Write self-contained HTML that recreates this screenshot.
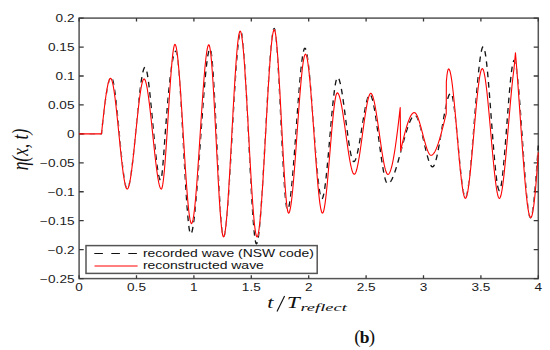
<!DOCTYPE html>
<html><head><meta charset="utf-8"><style>
html,body{margin:0;padding:0;background:#fff;}
body{width:550px;height:350px;overflow:hidden;}
svg{display:block;}
.tk{font-family:"Liberation Sans",sans-serif;font-size:10px;fill:#1a1a1a;}
.lg{font-family:"Liberation Sans",sans-serif;font-size:10.4px;fill:#111;}
.mt{font-family:"Liberation Serif",serif;font-style:italic;fill:#111;}
</style></head><body>
<svg width="550" height="350" viewBox="0 0 550 350">
<rect x="0" y="0" width="550" height="350" fill="#fff"/>
<rect x="79.10" y="18.10" width="459.20" height="260.50" fill="none" stroke="#555" stroke-width="1.5"/>
<path d="M79.10 278.60v-3.4M79.10 18.10v3.4M136.50 278.60v-3.4M136.50 18.10v3.4M193.90 278.60v-3.4M193.90 18.10v3.4M251.30 278.60v-3.4M251.30 18.10v3.4M308.70 278.60v-3.4M308.70 18.10v3.4M366.10 278.60v-3.4M366.10 18.10v3.4M423.50 278.60v-3.4M423.50 18.10v3.4M480.90 278.60v-3.4M480.90 18.10v3.4M538.30 278.60v-3.4M538.30 18.10v3.4M79.10 18.10h4.6M538.30 18.10h-4.6M79.10 47.04h4.6M538.30 47.04h-4.6M79.10 75.99h4.6M538.30 75.99h-4.6M79.10 104.93h4.6M538.30 104.93h-4.6M79.10 133.88h4.6M538.30 133.88h-4.6M79.10 162.82h4.6M538.30 162.82h-4.6M79.10 191.77h4.6M538.30 191.77h-4.6M79.10 220.71h4.6M538.30 220.71h-4.6M79.10 249.66h4.6M538.30 249.66h-4.6M79.10 278.60h4.6M538.30 278.60h-4.6" stroke="#383838" stroke-width="1.3" fill="none"/>
<defs><mask id="m" maskUnits="userSpaceOnUse" x="0" y="0" width="550" height="350"><rect x="0" y="0" width="550" height="350" fill="#fff"/><polyline points="79.10,133.88 79.61,133.88 80.12,133.88 80.63,133.88 81.14,133.88 81.64,133.88 82.15,133.88 82.66,133.88 83.17,133.88 83.68,133.88 84.19,133.88 84.70,133.88 85.21,133.88 85.71,133.88 86.22,133.88 86.73,133.88 87.24,133.88 87.75,133.88 88.26,133.88 88.77,133.88 89.28,133.88 89.78,133.88 90.29,133.88 90.80,133.88 91.31,133.88 91.82,133.88 92.33,133.88 92.84,133.88 93.35,133.88 93.85,133.88 94.36,133.88 94.87,133.88 95.38,133.88 95.89,133.88 96.40,133.88 96.91,133.88 97.42,133.88 97.92,133.88 98.43,133.88 98.94,133.88 99.45,133.88 99.96,133.88 100.47,133.88 100.98,133.88 101.49,133.88 101.99,129.08 102.49,124.34 103.00,119.70 103.50,115.18 104.01,110.81 104.51,106.60 105.01,102.58 105.52,98.78 106.02,95.23 106.52,91.94 107.03,88.95 107.53,86.28 108.04,83.94 108.54,81.98 109.04,80.41 109.55,79.26 110.05,78.55 110.56,78.30 111.06,78.60 111.56,79.48 112.07,80.89 112.57,82.79 113.08,85.16 113.58,87.96 114.09,91.15 114.59,94.68 115.10,98.53 115.60,102.66 116.10,107.03 116.61,111.60 117.11,116.34 117.62,121.21 118.12,126.17 118.63,131.19 119.13,136.22 119.63,141.24 120.14,146.20 120.64,151.07 121.15,155.81 121.65,160.38 122.16,164.75 122.66,168.88 123.17,172.73 123.67,176.26 124.17,179.45 124.68,182.24 125.18,184.61 125.69,186.52 126.19,187.93 126.70,188.80 127.20,189.10 127.71,188.81 128.22,187.94 128.74,186.54 129.25,184.64 129.76,182.28 130.27,179.50 130.78,176.33 131.29,172.81 131.80,168.98 132.32,164.87 132.83,160.53 133.34,155.98 133.85,151.27 134.36,146.42 134.87,141.49 135.38,136.50 135.89,131.49 136.41,126.50 136.92,121.56 137.43,116.72 137.94,112.01 138.45,107.46 138.96,103.11 139.47,99.01 139.99,95.18 140.50,91.66 141.01,88.49 141.52,85.71 142.03,83.35 142.54,81.45 143.05,80.05 143.57,79.18 144.08,78.88 144.58,79.16 145.09,79.98 145.60,81.31 146.10,83.10 146.61,85.33 147.12,87.97 147.62,90.98 148.13,94.32 148.64,97.96 149.14,101.88 149.65,106.03 150.15,110.38 150.66,114.90 151.17,119.56 151.67,124.31 152.18,129.14 152.69,133.99 153.19,138.85 153.70,143.67 154.21,148.43 154.71,153.09 155.22,157.61 155.73,161.96 156.23,166.11 156.74,170.02 157.25,173.67 157.75,177.01 158.26,180.02 158.76,182.65 159.27,184.89 159.78,186.68 160.28,188.00 160.79,188.82 161.30,189.10 161.80,188.52 162.31,186.84 162.81,184.14 163.32,180.51 163.83,176.05 164.33,170.83 164.84,164.96 165.34,158.50 165.85,151.57 166.36,144.23 166.86,136.59 167.37,128.73 167.87,120.73 168.38,112.69 168.89,104.70 169.39,96.84 169.90,89.19 170.40,81.86 170.91,74.92 171.42,68.47 171.92,62.59 172.43,57.38 172.93,52.91 173.44,49.29 173.95,46.59 174.45,44.90 174.96,44.32 175.46,44.81 175.96,46.22 176.46,48.50 176.96,51.59 177.46,55.42 177.96,59.95 178.46,65.10 178.97,70.82 179.47,77.06 179.97,83.74 180.47,90.80 180.97,98.20 181.47,105.87 181.97,113.75 182.47,121.77 182.97,129.89 183.47,138.04 183.98,146.15 184.48,154.18 184.98,162.06 185.48,169.73 185.98,177.13 186.48,184.19 186.98,190.87 187.48,197.11 187.98,202.83 188.48,207.98 188.98,212.51 189.49,216.34 189.99,219.43 190.49,221.71 190.99,223.12 191.49,223.61 192.00,223.15 192.51,221.82 193.02,219.67 193.53,216.76 194.04,213.14 194.55,208.86 195.06,203.98 195.57,198.56 196.08,192.64 196.59,186.29 197.10,179.55 197.61,172.49 198.12,165.15 198.63,157.60 199.14,149.88 199.65,142.05 200.16,134.17 200.67,126.28 201.18,118.46 201.69,110.74 202.20,103.18 202.71,95.85 203.22,88.78 203.73,82.05 204.24,75.69 204.75,69.78 205.26,64.35 205.76,59.47 206.27,55.20 206.78,51.57 207.29,48.66 207.80,46.51 208.31,45.18 208.82,44.73 209.33,45.40 209.84,47.35 210.34,50.47 210.85,54.69 211.36,59.90 211.86,66.01 212.37,72.92 212.88,80.54 213.38,88.77 213.89,97.53 214.40,106.71 214.90,116.22 215.41,125.97 215.92,135.86 216.42,145.79 216.93,155.68 217.44,165.43 217.94,174.94 218.45,184.12 218.96,192.88 219.46,201.11 219.97,208.73 220.48,215.64 220.98,221.75 221.49,226.96 222.00,231.18 222.50,234.30 223.01,236.25 223.52,236.92 224.02,236.36 224.53,234.74 225.03,232.13 225.54,228.58 226.04,224.18 226.54,218.98 227.05,213.07 227.55,206.50 228.06,199.35 228.56,191.68 229.07,183.57 229.57,175.07 230.08,166.27 230.58,157.23 231.08,148.02 231.59,138.70 232.09,129.35 232.60,120.03 233.10,110.82 233.61,101.77 234.11,92.97 234.62,84.48 235.12,76.36 235.62,68.70 236.13,61.54 236.63,54.98 237.14,49.06 237.64,43.87 238.15,39.46 238.65,35.92 239.16,33.30 239.66,31.68 240.16,31.13 240.68,31.68 241.19,33.30 241.70,35.92 242.21,39.46 242.72,43.87 243.23,49.06 243.74,54.98 244.26,61.54 244.77,68.70 245.28,76.36 245.79,84.48 246.30,92.97 246.81,101.77 247.32,110.82 247.84,120.03 248.35,129.35 248.86,138.70 249.37,148.02 249.88,157.23 250.39,166.27 250.90,175.07 251.41,183.57 251.93,191.68 252.44,199.35 252.95,206.50 253.46,213.07 253.97,218.98 254.48,224.18 254.99,228.58 255.51,232.13 256.02,234.74 256.53,236.36 257.04,236.92 257.55,236.39 258.05,234.85 258.56,232.36 259.07,228.99 259.57,224.79 260.08,219.84 260.59,214.18 261.09,207.90 261.60,201.04 262.10,193.68 262.61,185.88 263.12,177.70 263.62,169.20 264.13,160.44 264.64,151.50 265.14,142.43 265.65,133.30 266.16,124.17 266.66,115.10 267.17,106.15 267.68,97.40 268.18,88.90 268.69,80.72 269.20,72.91 269.70,65.55 270.21,58.70 270.71,52.41 271.22,46.76 271.73,41.81 272.23,37.61 272.74,34.23 273.25,31.74 273.75,30.21 274.26,29.68 274.77,30.36 275.28,32.35 275.80,35.55 276.31,39.84 276.82,45.14 277.33,51.35 277.85,58.35 278.36,66.06 278.87,74.37 279.38,83.18 279.90,92.39 280.41,101.90 280.92,111.62 281.43,121.43 281.95,131.25 282.46,140.96 282.97,150.47 283.48,159.68 284.00,168.50 284.51,176.81 285.02,184.51 285.53,191.52 286.05,197.72 286.56,203.02 287.07,207.32 287.58,210.51 288.10,212.50 288.61,213.19 289.12,212.76 289.63,211.50 290.14,209.48 290.66,206.74 291.17,203.34 291.68,199.33 292.19,194.76 292.70,189.68 293.21,184.15 293.72,178.23 294.24,171.96 294.75,165.40 295.26,158.59 295.77,151.61 296.28,144.49 296.79,137.29 297.30,130.06 297.81,122.86 298.33,115.74 298.84,108.76 299.35,101.95 299.86,95.39 300.37,89.12 300.88,83.20 301.39,77.67 301.91,72.59 302.42,68.02 302.93,64.01 303.44,60.61 303.95,57.87 304.46,55.85 304.97,54.59 305.49,54.16 306.00,54.59 306.52,55.85 307.03,57.87 307.55,60.61 308.06,64.01 308.57,68.02 309.09,72.59 309.60,77.67 310.12,83.20 310.63,89.12 311.15,95.39 311.66,101.95 312.18,108.76 312.69,115.74 313.21,122.86 313.72,130.06 314.24,137.29 314.75,144.49 315.27,151.61 315.78,158.59 316.30,165.40 316.81,171.96 317.33,178.23 317.84,184.15 318.36,189.68 318.87,194.76 319.39,199.33 319.90,203.34 320.42,206.74 320.93,209.48 321.45,211.50 321.96,212.76 322.48,213.19 322.99,212.77 323.50,211.55 324.01,209.59 324.52,206.95 325.03,203.69 325.54,199.86 326.05,195.53 326.56,190.76 327.07,185.61 327.58,180.12 328.09,174.37 328.60,168.42 329.11,162.31 329.63,156.12 330.14,149.90 330.65,143.71 331.16,137.60 331.67,131.65 332.18,125.90 332.69,120.41 333.20,115.26 333.71,110.49 334.22,106.16 334.73,102.33 335.24,99.07 335.75,96.43 336.26,94.47 336.77,93.25 337.29,92.83 337.80,93.05 338.31,93.70 338.83,94.73 339.34,96.13 339.86,97.88 340.37,99.93 340.89,102.27 341.40,104.87 341.92,107.70 342.43,110.74 342.95,113.95 343.46,117.31 343.98,120.80 344.49,124.37 345.01,128.02 345.52,131.71 346.04,135.41 346.55,139.10 347.07,142.74 347.58,146.32 348.10,149.81 348.61,153.17 349.13,156.38 349.64,159.41 350.16,162.24 350.67,164.84 351.19,167.19 351.70,169.24 352.22,170.98 352.73,172.39 353.25,173.42 353.76,174.06 354.28,174.28 354.78,174.07 355.28,173.43 355.78,172.40 356.28,171.01 356.78,169.27 357.28,167.23 357.78,164.90 358.28,162.32 358.78,159.51 359.29,156.49 359.79,153.30 360.29,149.96 360.79,146.50 361.29,142.95 361.79,139.32 362.29,135.66 362.79,131.98 363.29,128.32 363.79,124.69 364.29,121.14 364.80,117.68 365.30,114.34 365.80,111.15 366.30,108.13 366.80,105.32 367.30,102.73 367.80,100.41 368.30,98.37 368.80,96.63 369.30,95.24 369.80,94.21 370.31,93.57 370.81,93.36 371.31,93.56 371.81,94.16 372.32,95.14 372.82,96.46 373.32,98.10 373.83,100.04 374.33,102.25 374.83,104.70 375.33,107.39 375.84,110.26 376.34,113.32 376.84,116.52 377.35,119.84 377.85,123.26 378.35,126.76 378.86,130.31 379.36,133.88 379.86,137.45 380.37,141.00 380.87,144.49 381.37,147.92 381.87,151.24 382.38,154.44 382.88,157.49 383.38,160.37 383.89,163.05 384.39,165.51 384.89,167.72 385.40,169.66 385.90,171.30 386.40,172.62 386.91,173.59 387.41,174.19 387.91,174.40 388.42,174.25 388.94,173.79 389.45,173.05 389.96,172.03 390.47,170.73 390.98,169.18 391.49,167.37 392.01,165.32 392.52,163.04 393.03,160.54 393.54,157.82 394.05,154.91 394.57,151.79 395.08,148.50 395.59,145.03 396.10,141.39 396.61,137.60 397.12,133.66 397.64,129.59 398.15,125.40 398.66,121.08 399.17,116.66 399.68,112.14 400.20,107.54 400.65,150.84 401.16,148.56 401.67,146.30 402.17,144.08 402.68,141.90 403.18,139.77 403.69,137.68 404.20,135.64 404.70,133.66 405.21,131.73 405.71,129.88 406.22,128.09 406.73,126.38 407.23,124.74 407.74,123.19 408.24,121.73 408.75,120.36 409.26,119.08 409.76,117.90 410.27,116.83 410.77,115.87 411.28,115.02 411.79,114.29 412.29,113.69 412.80,113.21 413.30,112.86 413.81,112.65 414.32,112.57 414.82,112.69 415.33,113.03 415.84,113.57 416.35,114.31 416.86,115.22 417.36,116.30 417.87,117.53 418.38,118.89 418.89,120.37 419.40,121.97 419.90,123.65 420.41,125.41 420.92,127.24 421.43,129.12 421.93,131.03 422.44,132.97 422.95,134.91 423.46,136.84 423.97,138.75 424.47,140.63 424.98,142.46 425.49,144.22 426.00,145.91 426.51,147.50 427.01,148.98 427.52,150.35 428.03,151.57 428.54,152.65 429.05,153.57 429.55,154.30 430.06,154.84 430.57,155.18 431.08,155.30 431.58,155.23 432.09,155.02 432.59,154.68 433.10,154.21 433.60,153.62 434.11,152.92 434.61,152.10 435.12,151.17 435.62,150.15 436.13,149.02 436.63,147.80 437.14,146.49 437.64,145.10 438.15,143.64 438.65,142.10 439.16,140.49 439.66,138.82 440.17,137.09 440.67,135.31 441.18,133.48 441.68,131.61 442.19,129.69 442.69,127.75 443.20,125.78 443.70,123.78 444.21,121.76 444.72,119.74 445.22,117.70 445.73,115.66 446.23,113.62 446.35,81.78 446.92,75.69 447.49,71.71 448.07,69.53 448.64,68.87 449.15,69.22 449.66,70.24 450.16,71.89 450.67,74.12 451.18,76.89 451.69,80.16 452.20,83.88 452.70,88.02 453.21,92.52 453.72,97.35 454.23,102.46 454.74,107.80 455.24,113.34 455.75,119.04 456.26,124.84 456.77,130.70 457.28,136.59 457.78,142.46 458.29,148.26 458.80,153.95 459.31,159.49 459.82,164.84 460.32,169.94 460.83,174.77 461.34,179.27 461.85,183.41 462.35,187.13 462.86,190.40 463.37,193.17 463.88,195.41 464.39,197.05 464.89,198.07 465.40,198.42 465.91,198.07 466.42,197.05 466.94,195.40 467.45,193.16 467.96,190.38 468.47,187.11 468.98,183.38 469.49,179.23 470.00,174.72 470.52,169.88 471.03,164.76 471.54,159.40 472.05,153.85 472.56,148.14 473.07,142.33 473.58,136.45 474.10,130.55 474.61,124.67 475.12,118.86 475.63,113.15 476.14,107.60 476.65,102.24 477.16,97.12 477.68,92.28 478.19,87.77 478.70,83.63 479.21,79.90 479.72,76.62 480.23,73.84 480.74,71.60 481.25,69.95 481.77,68.93 482.28,68.58 482.78,68.91 483.28,69.87 483.79,71.43 484.29,73.55 484.79,76.18 485.30,79.28 485.80,82.82 486.30,86.76 486.81,91.06 487.31,95.67 487.81,100.56 488.31,105.69 488.82,111.01 489.32,116.49 489.82,122.10 490.33,127.78 490.83,133.50 491.33,139.22 491.84,144.91 492.34,150.51 492.84,155.99 493.35,161.32 493.85,166.45 494.35,171.33 494.85,175.95 495.36,180.24 495.86,184.18 496.36,187.72 496.87,190.83 497.37,193.46 497.87,195.57 498.38,197.13 498.88,198.09 499.38,198.42 499.89,198.09 500.39,197.12 500.89,195.54 501.39,193.41 501.90,190.74 502.40,187.59 502.90,184.00 503.40,179.99 503.91,175.61 504.41,170.90 504.91,165.89 505.42,160.63 505.92,155.15 506.42,149.49 506.92,143.68 507.43,137.78 507.93,131.80 508.43,125.81 508.93,119.82 509.44,113.88 509.94,108.04 510.44,102.32 510.95,96.76 511.45,91.41 511.95,86.30 512.45,81.47 512.96,76.96 513.46,72.80 513.96,69.04 514.71,61.13 515.45,52.83 515.96,58.89 516.47,65.22 516.98,71.79 517.49,78.58 518.00,85.54 518.51,92.65 519.02,99.86 519.53,107.15 520.04,114.48 520.54,121.81 521.05,129.12 521.56,136.37 522.07,143.52 522.58,150.54 523.09,157.40 523.60,164.07 524.11,170.50 524.62,176.67 525.12,182.54 525.63,188.07 526.14,193.25 526.65,198.02 527.16,202.35 527.67,206.22 528.18,209.59 528.69,212.42 529.20,214.68 529.71,216.33 530.21,217.35 530.72,217.70 531.23,217.34 531.73,216.29 532.24,214.58 532.74,212.22 533.25,209.26 533.75,205.72 534.26,201.62 534.76,197.01 535.27,191.89 535.77,186.31 536.28,180.29 536.78,173.86 537.29,167.05 537.79,159.89 538.30,152.40" fill="none" stroke="#000" stroke-width="1.2" stroke-linejoin="round"/></mask></defs>
<g fill="none" stroke-linejoin="round">
<polyline points="79.10,133.88 79.61,133.88 80.12,133.88 80.63,133.88 81.14,133.88 81.64,133.88 82.15,133.88 82.66,133.88 83.17,133.88 83.68,133.88 84.19,133.88 84.70,133.88 85.21,133.88 85.71,133.88 86.22,133.88 86.73,133.88 87.24,133.88 87.75,133.88 88.26,133.88 88.77,133.88 89.28,133.88 89.78,133.88 90.29,133.88 90.80,133.88 91.31,133.88 91.82,133.88 92.33,133.88 92.84,133.88 93.35,133.88 93.85,133.88 94.36,133.88 94.87,133.88 95.38,133.88 95.89,133.88 96.40,133.88 96.91,133.88 97.42,133.88 97.92,133.88 98.43,133.88 98.94,133.88 99.45,133.88 99.96,133.88 100.47,133.88 100.98,133.88 101.49,133.88 102.00,129.01 102.51,124.25 103.03,119.61 103.54,115.13 104.05,110.80 104.57,106.66 105.08,102.71 105.59,98.98 106.11,95.48 106.62,92.23 107.14,89.25 107.65,86.56 108.16,84.17 108.68,82.09 109.19,80.36 109.70,78.98 110.22,77.97 110.73,77.36 111.24,77.15 111.76,77.49 112.27,78.48 112.79,80.08 113.30,82.25 113.82,84.93 114.33,88.08 114.85,91.66 115.36,95.63 115.88,99.93 116.39,104.52 116.91,109.37 117.42,114.41 117.94,119.61 118.45,124.93 118.97,130.31 119.48,135.71 119.99,141.09 120.51,146.41 121.02,151.61 121.54,156.65 122.05,161.49 122.57,166.09 123.08,170.39 123.60,174.35 124.11,177.94 124.63,181.09 125.14,183.77 125.66,185.94 126.17,187.54 126.69,188.53 127.20,188.87 127.71,188.58 128.22,187.73 128.73,186.35 129.23,184.47 129.74,182.14 130.25,179.38 130.76,176.23 131.27,172.72 131.78,168.89 132.29,164.77 132.79,160.40 133.30,155.80 133.81,151.02 134.32,146.08 134.83,141.03 135.34,135.88 135.84,130.69 136.35,125.48 136.86,120.29 137.37,115.15 137.88,110.10 138.39,105.16 138.89,100.38 139.40,95.78 139.91,91.41 140.42,87.29 140.93,83.46 141.44,79.95 141.94,76.80 142.45,74.04 142.96,71.71 143.47,69.83 143.98,68.45 144.49,67.60 145.00,67.31 145.50,67.65 146.00,68.65 146.51,70.27 147.01,72.46 147.51,75.17 148.02,78.35 148.52,81.97 149.02,85.98 149.53,90.32 150.03,94.97 150.54,99.86 151.04,104.95 151.54,110.21 152.05,115.58 152.55,121.02 153.05,126.48 153.56,131.91 154.06,137.28 154.56,142.54 155.07,147.64 155.57,152.53 156.08,157.17 156.58,161.52 157.08,165.52 157.59,169.14 158.09,172.33 158.59,175.04 159.10,177.22 159.60,178.84 160.10,179.84 160.61,180.19 161.12,179.29 161.63,176.75 162.14,172.81 162.65,167.74 163.16,161.77 163.67,155.15 164.18,148.13 164.69,140.95 165.20,133.88 165.71,127.05 166.22,120.44 166.73,114.04 167.23,107.87 167.74,101.94 168.25,96.28 168.76,90.88 169.27,85.77 169.78,80.95 170.28,76.45 170.79,72.27 171.30,68.42 171.81,64.93 172.32,61.79 172.83,59.03 173.33,56.66 173.84,54.69 174.35,53.14 174.86,52.01 175.37,51.33 175.88,51.10 176.39,51.73 176.90,53.59 177.41,56.56 177.92,60.58 178.43,65.54 178.94,71.35 179.45,77.93 179.96,85.18 180.47,93.02 180.98,101.35 181.49,110.09 182.00,119.14 182.52,128.42 183.03,137.83 183.54,147.29 184.05,156.70 184.56,165.98 185.07,175.03 185.58,183.77 186.09,192.11 186.60,199.94 187.11,207.20 187.62,213.77 188.13,219.59 188.64,224.54 189.15,228.56 189.66,231.54 190.17,233.39 190.69,234.03 191.20,233.65 191.71,232.54 192.22,230.74 192.73,228.30 193.24,225.25 193.75,221.63 194.26,217.48 194.77,212.85 195.28,207.77 195.79,202.29 196.30,196.44 196.81,190.27 197.32,183.82 197.83,177.12 198.34,170.22 198.85,163.16 199.37,155.97 199.88,148.71 200.39,141.40 200.90,134.10 201.41,126.83 201.92,119.65 202.43,112.59 202.94,105.69 203.45,98.99 203.96,92.53 204.47,86.36 204.98,80.51 205.49,75.03 206.00,69.95 206.51,65.32 207.02,61.18 207.53,57.56 208.04,54.51 208.56,52.06 209.07,50.27 209.58,49.16 210.09,48.78 210.60,49.59 211.12,51.95 211.64,55.72 212.15,60.77 212.67,66.98 213.19,74.21 213.70,82.35 214.22,91.26 214.74,100.80 215.25,110.87 215.77,121.31 216.29,132.02 216.80,142.85 217.32,153.68 217.84,164.39 218.35,174.84 218.87,184.90 219.39,194.45 219.90,203.35 220.42,211.49 220.94,218.72 221.45,224.93 221.97,229.98 222.49,233.75 223.00,236.11 223.52,236.92 224.02,236.40 224.53,234.87 225.04,232.40 225.54,229.06 226.05,224.89 226.56,219.98 227.06,214.37 227.57,208.14 228.08,201.34 228.58,194.05 229.09,186.31 229.60,178.19 230.10,169.76 230.61,161.08 231.12,152.22 231.62,143.22 232.13,134.17 232.63,125.11 233.14,116.12 233.65,107.25 234.15,98.57 234.66,90.14 235.17,82.03 235.67,74.29 236.18,66.99 236.69,60.19 237.19,53.96 237.70,48.36 238.21,43.44 238.71,39.28 239.22,35.93 239.73,33.46 240.23,31.94 240.74,31.41 241.25,32.06 241.75,33.95 242.26,37.00 242.77,41.11 243.28,46.21 243.78,52.21 244.29,59.02 244.80,66.56 245.30,74.74 245.81,83.47 246.32,92.68 246.83,102.27 247.33,112.16 247.84,122.27 248.35,132.50 248.86,142.78 249.36,153.01 249.87,163.12 250.38,173.01 250.89,182.60 251.39,191.81 251.90,200.54 252.41,208.72 252.91,216.26 253.42,223.07 253.93,229.07 254.44,234.17 254.94,238.28 255.45,241.33 255.96,243.22 256.47,243.87 256.97,243.35 257.48,241.84 257.99,239.39 258.50,236.07 259.01,231.94 259.52,227.05 260.02,221.47 260.53,215.26 261.04,208.47 261.55,201.17 262.06,193.42 262.57,185.28 263.08,176.81 263.58,168.06 264.09,159.11 264.60,150.00 265.11,140.81 265.62,131.58 266.13,122.38 266.63,113.28 267.14,104.32 267.65,95.58 268.16,87.10 268.67,78.96 269.18,71.21 269.68,63.91 270.19,57.13 270.70,50.92 271.21,45.34 271.72,40.45 272.23,36.32 272.73,33.00 273.24,30.55 273.75,29.04 274.26,28.52 274.77,29.30 275.28,31.57 275.78,35.20 276.29,40.07 276.80,46.05 277.31,53.01 277.81,60.85 278.32,69.43 278.83,78.62 279.34,88.31 279.85,98.37 280.35,108.68 280.86,119.12 281.37,129.55 281.88,139.86 282.38,149.92 282.89,159.61 283.40,168.81 283.91,177.38 284.42,185.22 284.92,192.19 285.43,198.17 285.94,203.03 286.45,206.66 286.95,208.93 287.46,209.71 287.98,209.30 288.49,208.10 289.00,206.16 289.51,203.53 290.03,200.26 290.54,196.40 291.05,191.99 291.57,187.09 292.08,181.75 292.59,176.02 293.11,169.93 293.62,163.56 294.13,156.93 294.65,150.11 295.16,143.14 295.67,136.07 296.19,128.96 296.70,121.84 297.21,114.77 297.73,107.80 298.24,100.98 298.75,94.36 299.27,87.98 299.78,81.90 300.29,76.16 300.81,70.82 301.32,65.92 301.83,61.52 302.35,57.65 302.86,54.38 303.37,51.75 303.89,49.81 304.40,48.61 304.91,48.20 305.43,48.61 305.94,49.79 306.46,51.71 306.97,54.30 307.49,57.52 308.00,61.32 308.52,65.65 309.03,70.45 309.55,75.68 310.06,81.29 310.58,87.22 311.09,93.43 311.60,99.87 312.12,106.49 312.63,113.22 313.15,120.04 313.66,126.88 314.18,133.69 314.69,140.43 315.21,147.04 315.72,153.48 316.24,159.69 316.75,165.63 317.27,171.23 317.78,176.47 318.30,181.27 318.81,185.60 319.33,189.39 319.84,192.62 320.36,195.21 320.87,197.12 321.39,198.31 321.90,198.71 322.41,198.34 322.92,197.26 323.42,195.53 323.93,193.18 324.44,190.27 324.95,186.84 325.45,182.95 325.96,178.65 326.47,173.98 326.98,169.00 327.48,163.74 327.99,158.26 328.50,152.62 329.00,146.85 329.51,141.01 330.02,135.14 330.53,129.30 331.03,123.53 331.54,117.88 332.05,112.41 332.56,107.15 333.06,102.17 333.57,97.50 334.08,93.19 334.59,89.31 335.09,85.88 335.60,82.97 336.11,80.62 336.61,78.89 337.12,77.81 337.63,77.44 338.14,77.68 338.64,78.38 339.15,79.52 339.65,81.06 340.16,82.96 340.66,85.21 341.17,87.76 341.68,90.60 342.18,93.68 342.69,96.97 343.19,100.45 343.70,104.09 344.21,107.84 344.71,111.69 345.22,115.61 345.72,119.55 346.23,123.49 346.73,127.41 347.24,131.26 347.75,135.01 348.25,138.65 348.76,142.13 349.26,145.42 349.77,148.50 350.28,151.34 350.78,153.89 351.29,156.14 351.79,158.05 352.30,159.58 352.80,160.72 353.31,161.42 353.82,161.66 354.32,161.47 354.82,160.91 355.32,160.00 355.83,158.78 356.33,157.26 356.83,155.47 357.33,153.43 357.83,151.17 358.34,148.72 358.84,146.09 359.34,143.32 359.84,140.42 360.35,137.42 360.85,134.35 361.35,131.23 361.85,128.09 362.35,124.95 362.86,121.83 363.36,118.76 363.86,115.76 364.36,112.86 364.87,110.09 365.37,107.46 365.87,105.01 366.37,102.75 366.87,100.71 367.38,98.92 367.88,97.40 368.38,96.17 368.88,95.27 369.39,94.71 369.89,94.51 370.40,94.73 370.91,95.35 371.41,96.37 371.92,97.74 372.43,99.45 372.94,101.47 373.45,103.78 373.96,106.36 374.46,109.17 374.97,112.19 375.48,115.40 375.99,118.77 376.50,122.27 377.01,125.89 377.51,129.60 378.02,133.37 378.53,137.18 379.04,141.00 379.55,144.80 380.06,148.57 380.56,152.28 381.07,155.90 381.58,159.41 382.09,162.78 382.60,165.99 383.11,169.01 383.62,171.82 384.12,174.39 384.63,176.70 385.14,178.72 385.65,180.44 386.16,181.81 386.67,182.82 387.17,183.45 387.68,183.66 388.19,183.59 388.69,183.39 389.20,183.05 389.71,182.59 390.21,182.01 390.72,181.32 391.22,180.52 391.73,179.61 392.24,178.60 392.74,177.50 393.25,176.31 393.75,175.04 394.26,173.69 394.77,172.27 395.27,170.78 395.78,169.23 396.28,167.61 396.79,165.95 397.30,164.24 397.80,162.49 398.31,160.71 398.81,158.89 399.32,157.04 399.83,155.18 400.33,153.30 400.84,151.40 401.34,149.51 401.85,147.61 402.36,145.72 402.86,143.84 403.37,141.97 403.87,140.13 404.38,138.31 404.89,136.52 405.39,134.77 405.90,133.06 406.40,131.40 406.91,129.79 407.42,128.24 407.92,126.75 408.43,125.32 408.93,123.97 409.44,122.70 409.95,121.51 410.45,120.41 410.96,119.41 411.46,118.50 411.97,117.70 412.47,117.00 412.98,116.42 413.49,115.96 413.99,115.63 414.50,115.42 415.00,115.35 415.51,115.48 416.01,115.84 416.51,116.42 417.01,117.22 417.51,118.21 418.02,119.38 418.52,120.71 419.02,122.20 419.52,123.82 420.02,125.57 420.53,127.42 421.03,129.37 421.53,131.40 422.03,133.49 422.53,135.63 423.03,137.81 423.54,140.01 424.04,142.22 424.54,144.42 425.04,146.60 425.54,148.74 426.05,150.83 426.55,152.86 427.05,154.81 427.55,156.66 428.05,158.41 428.55,160.03 429.06,161.52 429.56,162.85 430.06,164.02 430.56,165.01 431.06,165.80 431.57,166.39 432.07,166.75 432.57,166.87 433.08,166.71 433.58,166.22 434.09,165.42 434.60,164.34 435.10,163.00 435.61,161.41 436.12,159.59 436.63,157.56 437.13,155.34 437.64,152.95 438.15,150.41 438.65,147.74 439.16,144.95 439.67,142.07 440.17,139.11 440.68,136.10 441.19,133.04 441.70,129.97 442.20,126.90 442.71,123.84 443.22,120.83 443.72,117.87 444.23,114.99 444.74,112.20 445.25,109.53 445.75,106.99 446.26,104.60 446.77,102.38 447.27,100.35 447.78,98.53 448.29,96.94 448.79,95.60 449.30,94.52 449.81,93.72 450.32,93.23 450.82,93.07 451.33,93.43 451.83,94.49 452.33,96.19 452.83,98.48 453.34,101.31 453.84,104.63 454.34,108.39 454.84,112.53 455.35,117.01 455.85,121.77 456.35,126.76 456.86,131.93 457.36,137.23 457.86,142.61 458.36,148.01 458.87,153.39 459.37,158.69 459.87,163.86 460.37,168.85 460.88,173.61 461.38,178.09 461.88,182.23 462.39,185.99 462.89,189.31 463.39,192.14 463.89,194.43 464.40,196.13 464.90,197.19 465.40,197.56 465.91,197.19 466.42,196.13 466.93,194.42 467.44,192.09 467.94,189.20 468.45,185.77 468.96,181.86 469.47,177.51 469.98,172.75 470.49,167.64 470.99,162.21 471.50,156.50 472.01,150.56 472.52,144.43 473.03,138.16 473.54,131.78 474.04,125.33 474.55,118.86 475.06,112.42 475.57,106.04 476.08,99.76 476.59,93.63 477.10,87.70 477.60,81.99 478.11,76.56 478.62,71.44 479.13,66.69 479.64,62.33 480.15,58.42 480.65,55.00 481.16,52.10 481.67,49.78 482.18,48.06 482.69,47.00 483.20,46.64 483.70,47.05 484.21,48.26 484.71,50.20 485.22,52.83 485.73,56.09 486.23,59.93 486.74,64.29 487.24,69.13 487.75,74.40 488.25,80.03 488.76,85.98 489.27,92.19 489.77,98.62 490.28,105.20 490.78,111.88 491.29,118.62 491.80,125.36 492.30,132.05 492.81,138.63 493.31,145.06 493.82,151.27 494.32,157.22 494.83,162.85 495.34,168.11 495.84,172.96 496.35,177.32 496.85,181.16 497.36,184.42 497.87,187.05 498.37,188.99 498.88,190.20 499.38,190.61 499.89,190.15 500.40,188.84 500.91,186.72 501.43,183.86 501.94,180.33 502.45,176.19 502.96,171.51 503.47,166.34 503.98,160.76 504.49,154.83 505.00,148.61 505.51,142.16 506.02,135.55 506.53,128.85 507.04,122.12 507.55,115.41 508.06,108.81 508.57,102.36 509.09,96.14 509.60,90.21 510.11,84.63 510.62,79.46 511.13,74.78 511.64,70.64 512.15,67.11 512.66,64.25 513.17,62.13 513.68,60.81 514.19,60.36 514.70,60.81 515.21,62.13 515.72,64.25 516.23,67.12 516.74,70.69 517.25,74.89 517.76,79.67 518.27,84.96 518.78,90.72 519.29,96.88 519.80,103.38 520.31,110.18 520.81,117.20 521.32,124.40 521.83,131.72 522.34,139.09 522.85,146.46 523.36,153.77 523.87,160.97 524.38,168.00 524.89,174.79 525.40,181.30 525.91,187.46 526.42,193.21 526.93,198.51 527.44,203.29 527.95,207.49 528.46,211.05 528.97,213.92 529.47,216.05 529.98,217.36 530.49,217.82 531.01,217.38 531.53,216.12 532.05,214.07 532.58,211.28 533.10,207.80 533.62,203.68 534.14,198.97 534.66,193.70 535.18,187.93 535.70,181.71 536.22,175.08 536.74,168.10 537.26,160.80 537.78,153.24 538.30,145.46" stroke="#161616" stroke-width="1.35" stroke-dasharray="5.6 4.8" mask="url(#m)"/>
<polyline points="79.10,133.88 79.61,133.88 80.12,133.88 80.63,133.88 81.14,133.88 81.64,133.88 82.15,133.88 82.66,133.88 83.17,133.88 83.68,133.88 84.19,133.88 84.70,133.88 85.21,133.88 85.71,133.88 86.22,133.88 86.73,133.88 87.24,133.88 87.75,133.88 88.26,133.88 88.77,133.88 89.28,133.88 89.78,133.88 90.29,133.88 90.80,133.88 91.31,133.88 91.82,133.88 92.33,133.88 92.84,133.88 93.35,133.88 93.85,133.88 94.36,133.88 94.87,133.88 95.38,133.88 95.89,133.88 96.40,133.88 96.91,133.88 97.42,133.88 97.92,133.88 98.43,133.88 98.94,133.88 99.45,133.88 99.96,133.88 100.47,133.88 100.98,133.88 101.49,133.88 101.99,129.08 102.49,124.34 103.00,119.70 103.50,115.18 104.01,110.81 104.51,106.60 105.01,102.58 105.52,98.78 106.02,95.23 106.52,91.94 107.03,88.95 107.53,86.28 108.04,83.94 108.54,81.98 109.04,80.41 109.55,79.26 110.05,78.55 110.56,78.30 111.06,78.60 111.56,79.48 112.07,80.89 112.57,82.79 113.08,85.16 113.58,87.96 114.09,91.15 114.59,94.68 115.10,98.53 115.60,102.66 116.10,107.03 116.61,111.60 117.11,116.34 117.62,121.21 118.12,126.17 118.63,131.19 119.13,136.22 119.63,141.24 120.14,146.20 120.64,151.07 121.15,155.81 121.65,160.38 122.16,164.75 122.66,168.88 123.17,172.73 123.67,176.26 124.17,179.45 124.68,182.24 125.18,184.61 125.69,186.52 126.19,187.93 126.70,188.80 127.20,189.10 127.71,188.81 128.22,187.94 128.74,186.54 129.25,184.64 129.76,182.28 130.27,179.50 130.78,176.33 131.29,172.81 131.80,168.98 132.32,164.87 132.83,160.53 133.34,155.98 133.85,151.27 134.36,146.42 134.87,141.49 135.38,136.50 135.89,131.49 136.41,126.50 136.92,121.56 137.43,116.72 137.94,112.01 138.45,107.46 138.96,103.11 139.47,99.01 139.99,95.18 140.50,91.66 141.01,88.49 141.52,85.71 142.03,83.35 142.54,81.45 143.05,80.05 143.57,79.18 144.08,78.88 144.58,79.16 145.09,79.98 145.60,81.31 146.10,83.10 146.61,85.33 147.12,87.97 147.62,90.98 148.13,94.32 148.64,97.96 149.14,101.88 149.65,106.03 150.15,110.38 150.66,114.90 151.17,119.56 151.67,124.31 152.18,129.14 152.69,133.99 153.19,138.85 153.70,143.67 154.21,148.43 154.71,153.09 155.22,157.61 155.73,161.96 156.23,166.11 156.74,170.02 157.25,173.67 157.75,177.01 158.26,180.02 158.76,182.65 159.27,184.89 159.78,186.68 160.28,188.00 160.79,188.82 161.30,189.10 161.80,188.52 162.31,186.84 162.81,184.14 163.32,180.51 163.83,176.05 164.33,170.83 164.84,164.96 165.34,158.50 165.85,151.57 166.36,144.23 166.86,136.59 167.37,128.73 167.87,120.73 168.38,112.69 168.89,104.70 169.39,96.84 169.90,89.19 170.40,81.86 170.91,74.92 171.42,68.47 171.92,62.59 172.43,57.38 172.93,52.91 173.44,49.29 173.95,46.59 174.45,44.90 174.96,44.32 175.46,44.81 175.96,46.22 176.46,48.50 176.96,51.59 177.46,55.42 177.96,59.95 178.46,65.10 178.97,70.82 179.47,77.06 179.97,83.74 180.47,90.80 180.97,98.20 181.47,105.87 181.97,113.75 182.47,121.77 182.97,129.89 183.47,138.04 183.98,146.15 184.48,154.18 184.98,162.06 185.48,169.73 185.98,177.13 186.48,184.19 186.98,190.87 187.48,197.11 187.98,202.83 188.48,207.98 188.98,212.51 189.49,216.34 189.99,219.43 190.49,221.71 190.99,223.12 191.49,223.61 192.00,223.15 192.51,221.82 193.02,219.67 193.53,216.76 194.04,213.14 194.55,208.86 195.06,203.98 195.57,198.56 196.08,192.64 196.59,186.29 197.10,179.55 197.61,172.49 198.12,165.15 198.63,157.60 199.14,149.88 199.65,142.05 200.16,134.17 200.67,126.28 201.18,118.46 201.69,110.74 202.20,103.18 202.71,95.85 203.22,88.78 203.73,82.05 204.24,75.69 204.75,69.78 205.26,64.35 205.76,59.47 206.27,55.20 206.78,51.57 207.29,48.66 207.80,46.51 208.31,45.18 208.82,44.73 209.33,45.40 209.84,47.35 210.34,50.47 210.85,54.69 211.36,59.90 211.86,66.01 212.37,72.92 212.88,80.54 213.38,88.77 213.89,97.53 214.40,106.71 214.90,116.22 215.41,125.97 215.92,135.86 216.42,145.79 216.93,155.68 217.44,165.43 217.94,174.94 218.45,184.12 218.96,192.88 219.46,201.11 219.97,208.73 220.48,215.64 220.98,221.75 221.49,226.96 222.00,231.18 222.50,234.30 223.01,236.25 223.52,236.92 224.02,236.36 224.53,234.74 225.03,232.13 225.54,228.58 226.04,224.18 226.54,218.98 227.05,213.07 227.55,206.50 228.06,199.35 228.56,191.68 229.07,183.57 229.57,175.07 230.08,166.27 230.58,157.23 231.08,148.02 231.59,138.70 232.09,129.35 232.60,120.03 233.10,110.82 233.61,101.77 234.11,92.97 234.62,84.48 235.12,76.36 235.62,68.70 236.13,61.54 236.63,54.98 237.14,49.06 237.64,43.87 238.15,39.46 238.65,35.92 239.16,33.30 239.66,31.68 240.16,31.13 240.68,31.68 241.19,33.30 241.70,35.92 242.21,39.46 242.72,43.87 243.23,49.06 243.74,54.98 244.26,61.54 244.77,68.70 245.28,76.36 245.79,84.48 246.30,92.97 246.81,101.77 247.32,110.82 247.84,120.03 248.35,129.35 248.86,138.70 249.37,148.02 249.88,157.23 250.39,166.27 250.90,175.07 251.41,183.57 251.93,191.68 252.44,199.35 252.95,206.50 253.46,213.07 253.97,218.98 254.48,224.18 254.99,228.58 255.51,232.13 256.02,234.74 256.53,236.36 257.04,236.92 257.55,236.39 258.05,234.85 258.56,232.36 259.07,228.99 259.57,224.79 260.08,219.84 260.59,214.18 261.09,207.90 261.60,201.04 262.10,193.68 262.61,185.88 263.12,177.70 263.62,169.20 264.13,160.44 264.64,151.50 265.14,142.43 265.65,133.30 266.16,124.17 266.66,115.10 267.17,106.15 267.68,97.40 268.18,88.90 268.69,80.72 269.20,72.91 269.70,65.55 270.21,58.70 270.71,52.41 271.22,46.76 271.73,41.81 272.23,37.61 272.74,34.23 273.25,31.74 273.75,30.21 274.26,29.68 274.77,30.36 275.28,32.35 275.80,35.55 276.31,39.84 276.82,45.14 277.33,51.35 277.85,58.35 278.36,66.06 278.87,74.37 279.38,83.18 279.90,92.39 280.41,101.90 280.92,111.62 281.43,121.43 281.95,131.25 282.46,140.96 282.97,150.47 283.48,159.68 284.00,168.50 284.51,176.81 285.02,184.51 285.53,191.52 286.05,197.72 286.56,203.02 287.07,207.32 287.58,210.51 288.10,212.50 288.61,213.19 289.12,212.76 289.63,211.50 290.14,209.48 290.66,206.74 291.17,203.34 291.68,199.33 292.19,194.76 292.70,189.68 293.21,184.15 293.72,178.23 294.24,171.96 294.75,165.40 295.26,158.59 295.77,151.61 296.28,144.49 296.79,137.29 297.30,130.06 297.81,122.86 298.33,115.74 298.84,108.76 299.35,101.95 299.86,95.39 300.37,89.12 300.88,83.20 301.39,77.67 301.91,72.59 302.42,68.02 302.93,64.01 303.44,60.61 303.95,57.87 304.46,55.85 304.97,54.59 305.49,54.16 306.00,54.59 306.52,55.85 307.03,57.87 307.55,60.61 308.06,64.01 308.57,68.02 309.09,72.59 309.60,77.67 310.12,83.20 310.63,89.12 311.15,95.39 311.66,101.95 312.18,108.76 312.69,115.74 313.21,122.86 313.72,130.06 314.24,137.29 314.75,144.49 315.27,151.61 315.78,158.59 316.30,165.40 316.81,171.96 317.33,178.23 317.84,184.15 318.36,189.68 318.87,194.76 319.39,199.33 319.90,203.34 320.42,206.74 320.93,209.48 321.45,211.50 321.96,212.76 322.48,213.19 322.99,212.77 323.50,211.55 324.01,209.59 324.52,206.95 325.03,203.69 325.54,199.86 326.05,195.53 326.56,190.76 327.07,185.61 327.58,180.12 328.09,174.37 328.60,168.42 329.11,162.31 329.63,156.12 330.14,149.90 330.65,143.71 331.16,137.60 331.67,131.65 332.18,125.90 332.69,120.41 333.20,115.26 333.71,110.49 334.22,106.16 334.73,102.33 335.24,99.07 335.75,96.43 336.26,94.47 336.77,93.25 337.29,92.83 337.80,93.05 338.31,93.70 338.83,94.73 339.34,96.13 339.86,97.88 340.37,99.93 340.89,102.27 341.40,104.87 341.92,107.70 342.43,110.74 342.95,113.95 343.46,117.31 343.98,120.80 344.49,124.37 345.01,128.02 345.52,131.71 346.04,135.41 346.55,139.10 347.07,142.74 347.58,146.32 348.10,149.81 348.61,153.17 349.13,156.38 349.64,159.41 350.16,162.24 350.67,164.84 351.19,167.19 351.70,169.24 352.22,170.98 352.73,172.39 353.25,173.42 353.76,174.06 354.28,174.28 354.78,174.07 355.28,173.43 355.78,172.40 356.28,171.01 356.78,169.27 357.28,167.23 357.78,164.90 358.28,162.32 358.78,159.51 359.29,156.49 359.79,153.30 360.29,149.96 360.79,146.50 361.29,142.95 361.79,139.32 362.29,135.66 362.79,131.98 363.29,128.32 363.79,124.69 364.29,121.14 364.80,117.68 365.30,114.34 365.80,111.15 366.30,108.13 366.80,105.32 367.30,102.73 367.80,100.41 368.30,98.37 368.80,96.63 369.30,95.24 369.80,94.21 370.31,93.57 370.81,93.36 371.31,93.56 371.81,94.16 372.32,95.14 372.82,96.46 373.32,98.10 373.83,100.04 374.33,102.25 374.83,104.70 375.33,107.39 375.84,110.26 376.34,113.32 376.84,116.52 377.35,119.84 377.85,123.26 378.35,126.76 378.86,130.31 379.36,133.88 379.86,137.45 380.37,141.00 380.87,144.49 381.37,147.92 381.87,151.24 382.38,154.44 382.88,157.49 383.38,160.37 383.89,163.05 384.39,165.51 384.89,167.72 385.40,169.66 385.90,171.30 386.40,172.62 386.91,173.59 387.41,174.19 387.91,174.40 388.42,174.25 388.94,173.79 389.45,173.05 389.96,172.03 390.47,170.73 390.98,169.18 391.49,167.37 392.01,165.32 392.52,163.04 393.03,160.54 393.54,157.82 394.05,154.91 394.57,151.79 395.08,148.50 395.59,145.03 396.10,141.39 396.61,137.60 397.12,133.66 397.64,129.59 398.15,125.40 398.66,121.08 399.17,116.66 399.68,112.14 400.20,107.54 400.65,150.84 401.16,148.56 401.67,146.30 402.17,144.08 402.68,141.90 403.18,139.77 403.69,137.68 404.20,135.64 404.70,133.66 405.21,131.73 405.71,129.88 406.22,128.09 406.73,126.38 407.23,124.74 407.74,123.19 408.24,121.73 408.75,120.36 409.26,119.08 409.76,117.90 410.27,116.83 410.77,115.87 411.28,115.02 411.79,114.29 412.29,113.69 412.80,113.21 413.30,112.86 413.81,112.65 414.32,112.57 414.82,112.69 415.33,113.03 415.84,113.57 416.35,114.31 416.86,115.22 417.36,116.30 417.87,117.53 418.38,118.89 418.89,120.37 419.40,121.97 419.90,123.65 420.41,125.41 420.92,127.24 421.43,129.12 421.93,131.03 422.44,132.97 422.95,134.91 423.46,136.84 423.97,138.75 424.47,140.63 424.98,142.46 425.49,144.22 426.00,145.91 426.51,147.50 427.01,148.98 427.52,150.35 428.03,151.57 428.54,152.65 429.05,153.57 429.55,154.30 430.06,154.84 430.57,155.18 431.08,155.30 431.58,155.23 432.09,155.02 432.59,154.68 433.10,154.21 433.60,153.62 434.11,152.92 434.61,152.10 435.12,151.17 435.62,150.15 436.13,149.02 436.63,147.80 437.14,146.49 437.64,145.10 438.15,143.64 438.65,142.10 439.16,140.49 439.66,138.82 440.17,137.09 440.67,135.31 441.18,133.48 441.68,131.61 442.19,129.69 442.69,127.75 443.20,125.78 443.70,123.78 444.21,121.76 444.72,119.74 445.22,117.70 445.73,115.66 446.23,113.62 446.35,81.78 446.92,75.69 447.49,71.71 448.07,69.53 448.64,68.87 449.15,69.22 449.66,70.24 450.16,71.89 450.67,74.12 451.18,76.89 451.69,80.16 452.20,83.88 452.70,88.02 453.21,92.52 453.72,97.35 454.23,102.46 454.74,107.80 455.24,113.34 455.75,119.04 456.26,124.84 456.77,130.70 457.28,136.59 457.78,142.46 458.29,148.26 458.80,153.95 459.31,159.49 459.82,164.84 460.32,169.94 460.83,174.77 461.34,179.27 461.85,183.41 462.35,187.13 462.86,190.40 463.37,193.17 463.88,195.41 464.39,197.05 464.89,198.07 465.40,198.42 465.91,198.07 466.42,197.05 466.94,195.40 467.45,193.16 467.96,190.38 468.47,187.11 468.98,183.38 469.49,179.23 470.00,174.72 470.52,169.88 471.03,164.76 471.54,159.40 472.05,153.85 472.56,148.14 473.07,142.33 473.58,136.45 474.10,130.55 474.61,124.67 475.12,118.86 475.63,113.15 476.14,107.60 476.65,102.24 477.16,97.12 477.68,92.28 478.19,87.77 478.70,83.63 479.21,79.90 479.72,76.62 480.23,73.84 480.74,71.60 481.25,69.95 481.77,68.93 482.28,68.58 482.78,68.91 483.28,69.87 483.79,71.43 484.29,73.55 484.79,76.18 485.30,79.28 485.80,82.82 486.30,86.76 486.81,91.06 487.31,95.67 487.81,100.56 488.31,105.69 488.82,111.01 489.32,116.49 489.82,122.10 490.33,127.78 490.83,133.50 491.33,139.22 491.84,144.91 492.34,150.51 492.84,155.99 493.35,161.32 493.85,166.45 494.35,171.33 494.85,175.95 495.36,180.24 495.86,184.18 496.36,187.72 496.87,190.83 497.37,193.46 497.87,195.57 498.38,197.13 498.88,198.09 499.38,198.42 499.89,198.09 500.39,197.12 500.89,195.54 501.39,193.41 501.90,190.74 502.40,187.59 502.90,184.00 503.40,179.99 503.91,175.61 504.41,170.90 504.91,165.89 505.42,160.63 505.92,155.15 506.42,149.49 506.92,143.68 507.43,137.78 507.93,131.80 508.43,125.81 508.93,119.82 509.44,113.88 509.94,108.04 510.44,102.32 510.95,96.76 511.45,91.41 511.95,86.30 512.45,81.47 512.96,76.96 513.46,72.80 513.96,69.04 514.71,61.13 515.45,52.83 515.96,58.89 516.47,65.22 516.98,71.79 517.49,78.58 518.00,85.54 518.51,92.65 519.02,99.86 519.53,107.15 520.04,114.48 520.54,121.81 521.05,129.12 521.56,136.37 522.07,143.52 522.58,150.54 523.09,157.40 523.60,164.07 524.11,170.50 524.62,176.67 525.12,182.54 525.63,188.07 526.14,193.25 526.65,198.02 527.16,202.35 527.67,206.22 528.18,209.59 528.69,212.42 529.20,214.68 529.71,216.33 530.21,217.35 530.72,217.70 531.23,217.34 531.73,216.29 532.24,214.58 532.74,212.22 533.25,209.26 533.75,205.72 534.26,201.62 534.76,197.01 535.27,191.89 535.77,186.31 536.28,180.29 536.78,173.86 537.29,167.05 537.79,159.89 538.30,152.40" stroke="#ff0000" stroke-width="1.1"/>
</g>
<g class="tk">
<text x="79.10" y="291.2" text-anchor="middle" transform="translate(79.10 0) scale(1.360 1) translate(-79.10 0)">0</text>
<text x="136.50" y="291.2" text-anchor="middle" transform="translate(136.50 0) scale(1.360 1) translate(-136.50 0)">0.5</text>
<text x="193.90" y="291.2" text-anchor="middle" transform="translate(193.90 0) scale(1.360 1) translate(-193.90 0)">1</text>
<text x="251.30" y="291.2" text-anchor="middle" transform="translate(251.30 0) scale(1.360 1) translate(-251.30 0)">1.5</text>
<text x="308.70" y="291.2" text-anchor="middle" transform="translate(308.70 0) scale(1.360 1) translate(-308.70 0)">2</text>
<text x="366.10" y="291.2" text-anchor="middle" transform="translate(366.10 0) scale(1.360 1) translate(-366.10 0)">2.5</text>
<text x="423.50" y="291.2" text-anchor="middle" transform="translate(423.50 0) scale(1.360 1) translate(-423.50 0)">3</text>
<text x="480.90" y="291.2" text-anchor="middle" transform="translate(480.90 0) scale(1.360 1) translate(-480.90 0)">3.5</text>
<text x="538.30" y="291.2" text-anchor="middle" transform="translate(538.30 0) scale(1.360 1) translate(-538.30 0)">4</text>
<text x="74.50" y="22.40" text-anchor="end" transform="translate(74.50 0) scale(1.360 1) translate(-74.50 0)">0.2</text>
<text x="74.50" y="51.34" text-anchor="end" transform="translate(74.50 0) scale(1.360 1) translate(-74.50 0)">0.15</text>
<text x="74.50" y="80.29" text-anchor="end" transform="translate(74.50 0) scale(1.360 1) translate(-74.50 0)">0.1</text>
<text x="74.50" y="109.23" text-anchor="end" transform="translate(74.50 0) scale(1.360 1) translate(-74.50 0)">0.05</text>
<text x="74.50" y="138.18" text-anchor="end" transform="translate(74.50 0) scale(1.360 1) translate(-74.50 0)">0</text>
<text x="74.50" y="167.12" text-anchor="end" transform="translate(74.50 0) scale(1.360 1) translate(-74.50 0)">−0.05</text>
<text x="74.50" y="196.07" text-anchor="end" transform="translate(74.50 0) scale(1.360 1) translate(-74.50 0)">−0.1</text>
<text x="74.50" y="225.01" text-anchor="end" transform="translate(74.50 0) scale(1.360 1) translate(-74.50 0)">−0.15</text>
<text x="74.50" y="253.96" text-anchor="end" transform="translate(74.50 0) scale(1.360 1) translate(-74.50 0)">−0.2</text>
<text x="74.50" y="282.90" text-anchor="end" transform="translate(74.50 0) scale(1.360 1) translate(-74.50 0)">−0.25</text>
</g>
<rect x="86" y="245.6" width="231.2" height="27.8" fill="#fff" stroke="#555" stroke-width="1.5"/>
<line x1="94.3" y1="253.5" x2="137" y2="253.5" stroke="#111" stroke-width="1.2" stroke-dasharray="8.6 8.4"/>
<line x1="94.5" y1="266" x2="137.6" y2="266" stroke="#ff0000" stroke-width="1.1"/>
<g class="lg">
<text x="142.9" y="257.1" textLength="171" lengthAdjust="spacingAndGlyphs">recorded wave (NSW code)</text>
<text x="142.9" y="268.9" textLength="121" lengthAdjust="spacingAndGlyphs">reconstructed wave</text>
</g>
<g class="mt">
<text x="267.3" y="307.6" font-size="17.5" textLength="6.2" lengthAdjust="spacingAndGlyphs">t</text>
<text x="286.8" y="307.6" font-size="16.5" textLength="13" lengthAdjust="spacingAndGlyphs">T</text>
<text x="300.4" y="310.6" font-size="11" textLength="46.4" lengthAdjust="spacingAndGlyphs">reflect</text>
</g>
<line x1="277" y1="311.4" x2="284.6" y2="296" stroke="#111" stroke-width="1.15"/>
<text x="354.2" y="342.8" font-family="Liberation Serif,serif" font-size="19" fill="#111" textLength="21" lengthAdjust="spacing">(<tspan font-weight="bold" font-size="17.5">b</tspan>)</text>
<g transform="translate(27.6 170.3) rotate(-90)">
<text class="mt" x="0" y="0" font-size="23" fill="#222" textLength="41.5" lengthAdjust="spacingAndGlyphs">&#951;(x, t)</text>
</g>
</svg>
</body></html>
